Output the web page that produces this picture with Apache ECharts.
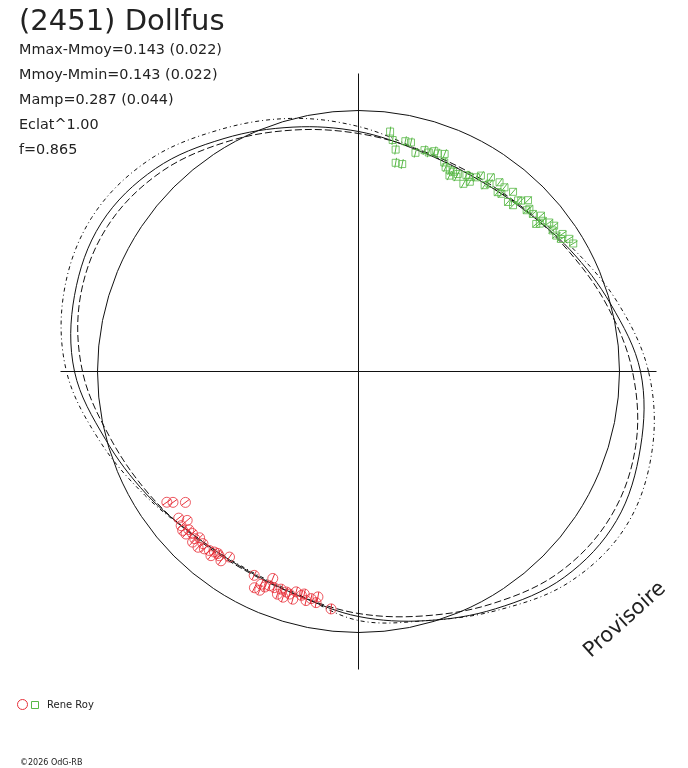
<!DOCTYPE html>
<html>
<head>
<meta charset="utf-8">
<script src="https://cdn.jsdelivr.net/npm/echarts@6/dist/echarts.min.js"></script>
<style>
  html, body { margin: 0; padding: 0; background: #fff; }
  #chart { width: 688px; height: 768px; }
</style>
</head>
<body>
<div id="chart"></div>
<script>
// phase angle (deg) of the fitted curves, radius in plot units
const fitAngles = [0, 15, 30, 45, 60, 75, 90, 105, 120, 135, 150, 165, 180, 195, 210, 225, 240, 255, 270, 285, 300, 315, 330, 345];
const fitMid  = [282, 261, 244, 231, 226, 229, 240, 253, 269, 287, 297, 294, 284, 262, 245, 232, 228, 232, 245, 258, 274, 291, 298, 292];
const fitHigh = [290, 268, 247, 232, 226, 230, 245, 262, 279, 298, 308, 305, 292, 268, 247, 232, 227, 231, 249, 258, 276, 298, 309, 304];
const fitLow  = [274, 257, 242, 232, 228, 230, 238, 250, 265, 281, 290, 288, 276, 257, 243, 233, 229, 232, 242, 253, 268, 284, 291, 287];

// observations (square markers)
const greenAngle = [82.5, 81.6, 80.5, 78.5, 77.1, 75.4, 79.9, 78.1, 73.4, 72.2, 71, 70, 68.4, 66.9, 65.1, 64.7, 63.3, 60.8, 59.6, 61.2, 58.8, 58, 55.9, 55.1, 55.7, 52.2, 53.3, 51.6, 48.6, 49.3, 47, 46.4, 45.3, 43.6, 42.1, 39.7, 40.5, 39.3, 38, 36, 36.7, 33.2, 34, 32.2, 30.8, 67.7, 65.6, 63.3, 60.3, 51.2, 47.1, 43.8, 39.2, 34.5];
const greenRadius = [242, 234, 225, 235, 235, 226, 212, 212, 231, 230, 233, 232, 234, 222, 216, 221, 221, 215, 220, 224, 227, 231, 225, 229, 235, 227, 236, 235, 226, 237, 234, 236, 241, 236, 235, 231, 240, 238, 242, 240, 244, 242, 246, 249, 250, 226, 221, 218, 224, 228, 227, 233, 234, 240];

// observations (circle markers)
const redAngle = [214.3, 215.2, 217.1, 219.2, 221, 221, 222.1, 223, 224.3, 223.3, 225.6, 226.3, 225.8, 227.9, 227.6, 229, 230.2, 231.4, 232.3, 234, 235.2, 232.9, 231.3, 242.9, 244.3, 245.4, 246.5, 247.5, 248.7, 250, 250.4, 251.9, 252.8, 253.9, 254.2, 255.7, 256.3, 257.1, 258.2, 259.8, 259.6, 263.4, 245.7, 247.4, 251.5];
const redRadius = [232, 227, 217, 232, 227, 235, 237, 232, 232, 237, 234, 230, 238, 232, 238, 235, 233, 231, 230, 234, 226, 231, 236, 229, 240, 234, 235, 224, 232, 237, 231, 232, 233, 237, 229, 231, 229, 235, 232, 229, 235, 239, 240, 232, 238];

const titleText = '(2451) Dollfus';
const statLines = ['Mmax-Mmoy=0.143 (0.022)', 'Mmoy-Mmin=0.143 (0.022)', 'Mamp=0.287 (0.044)', 'Eclat^1.00', 'f=0.865'];
const observer = 'Rene Roy';
const footer = '\u00A92026 OdG-RB';

const meanRadius = 261;   // reference circle
const axisRadius = 298;   // cross arms
const plotRadius = 340;   // room for the curves
const errHalf = 5;
const lineColor = '#111';
const textColor = '#222';
const red = '#e8303a';
const green = '#58b846';
const font = 'DejaVu Sans';
const center = [358.5, 371.5];

const zip = (rs, as) => rs.map((r, i) => [r, as[i]]);

// closed smooth curve through the fit points
const fitSeries = (radii, dash) => ({
    type: 'custom',
    coordinateSystem: 'polar',
    polarIndex: 2,
    silent: true,
    data: [[radii[0], fitAngles[0]]],
    renderItem: (params, api) => ({
        type: 'polygon',
        shape: { points: radii.map((r, i) => api.coord([r, fitAngles[i]])), smooth: 0.35 },
        style: { fill: 'none', stroke: lineColor, lineWidth: 1, lineDash: dash },
    }),
});

// short radial error bar through each observation
const errSeries = (data, color) => ({
    type: 'custom',
    coordinateSystem: 'polar',
    polarIndex: 2,
    silent: true,
    data,
    renderItem: (params, api) => {
        const r = api.value(0), a = api.value(1);
        const p1 = api.coord([r - errHalf, a]);
        const p2 = api.coord([r + errHalf, a]);
        return {
            type: 'line',
            shape: { x1: p1[0], y1: p1[1], x2: p2[0], y2: p2[1] },
            style: { stroke: color, lineWidth: 1 },
        };
    },
});

const obsSeries = (data, symbol, size, color) => ({
    type: 'scatter',
    coordinateSystem: 'polar',
    polarIndex: 2,
    symbol,
    symbolSize: size,
    data,
    itemStyle: { color: 'rgba(0,0,0,0)', borderColor: color, borderWidth: 1 },
});

const hiddenAngle = (polarIndex) => ({
    polarIndex, type: 'value', min: 0, max: 360, startAngle: 0, clockwise: false,
    axisLine: { show: false }, axisTick: { show: false }, axisLabel: { show: false }, splitLine: { show: false },
});

const chart = echarts.init(document.getElementById('chart'));

const greenData = zip(greenRadius, greenAngle);
const redData = zip(redRadius, redAngle);

const option = {
    animation: false,
    backgroundColor: '#fff',
    polar: [
        { center, radius: meanRadius },
        { center, radius: axisRadius },
        { center, radius: plotRadius },
    ],
    angleAxis: [
        Object.assign(hiddenAngle(0), { axisLine: { show: true, lineStyle: { color: lineColor, width: 1 } } }),
        Object.assign(hiddenAngle(1), { interval: 90, splitLine: { show: true, lineStyle: { color: lineColor, width: 1 } } }),
        hiddenAngle(2),
    ],
    radiusAxis: [
        { polarIndex: 0, type: 'value', min: 0, max: meanRadius, show: false },
        { polarIndex: 1, type: 'value', min: 0, max: axisRadius, show: false },
        { polarIndex: 2, type: 'value', min: 0, max: plotRadius, show: false },
    ],
    series: [
        fitSeries(fitMid, null),
        fitSeries(fitHigh, [4, 3, 1, 3]),
        fitSeries(fitLow, [7, 3]),
        errSeries(greenData, green),
        errSeries(redData, red),
        obsSeries(greenData, 'rect', 7, green),
        obsSeries(redData, 'circle', 10, red),
    ],
    graphic: [
        { type: 'text', x: 19, y: 22, style: { text: titleText, fontFamily: font, fontSize: 29, fill: textColor, verticalAlign: 'middle' } },
        ...statLines.map((t, i) => ({
            type: 'text', x: 19, y: 50.5 + i * 25,
            style: { text: t, fontFamily: font, fontSize: 14.4, fill: textColor, verticalAlign: 'middle' },
        })),
        {
            type: 'text', x: 625, y: 620, rotation: 0.733,
            style: { text: 'Provisoire', fontFamily: font, fontSize: 21, fill: textColor, align: 'center', verticalAlign: 'middle' },
        },
        { type: 'circle', shape: { cx: 22.5, cy: 704.5, r: 5 }, style: { fill: 'none', stroke: red, lineWidth: 1 } },
        { type: 'rect', shape: { x: 31.5, y: 701.5, width: 7, height: 7 }, style: { fill: 'none', stroke: green, lineWidth: 1 } },
        { type: 'text', x: 47, y: 705, style: { text: observer, fontFamily: font, fontSize: 10, fill: textColor, verticalAlign: 'middle' } },
        { type: 'text', x: 20, y: 763, style: { text: footer, fontFamily: font, fontSize: 8, fill: textColor, verticalAlign: 'middle' } },
    ],
};

chart.setOption(option);
</script>
</body>
</html>
